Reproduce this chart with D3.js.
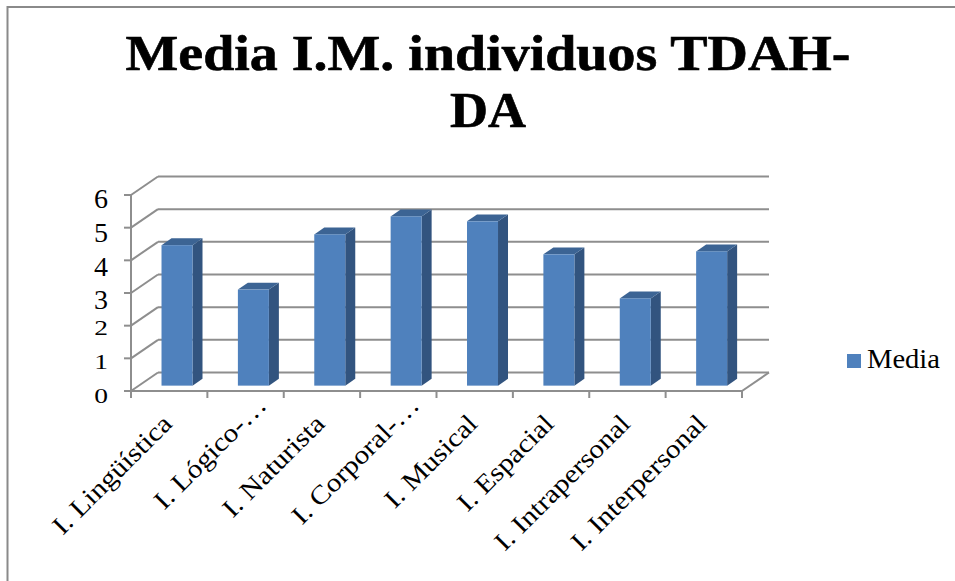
<!DOCTYPE html>
<html><head><meta charset="utf-8">
<script src="https://cdn.jsdelivr.net/npm/d3@7"></script>
<style>html,body{margin:0;padding:0;background:#fff;overflow:hidden}svg{display:block}</style>
</head><body><svg id="c" width="955" height="581"></svg>
<script>
const categories = ["I. Lingüística","I. Lógico-…","I. Naturista","I. Corporal-…","I. Musical","I. Espacial","I. Intrapersonal","I. Interpersonal"];
const values = [4.3,2.94,4.63,5.18,5.03,4.02,2.67,4.11];
const yTicks = [0,1,2,3,4,5,6];
const seriesName = "Media";
const titleLines = ["Media I.M. individuos TDAH-","DA"];

const serif = "'Liberation Serif',serif";
const grid = "#8e8e8e";
const svg = d3.select("#c");
const x = d3.scaleBand().domain(categories).range([131,742]);
const y = d3.scaleLinear().domain([0,6]).range([391,195]);
const DX = 27, DY = -18.5;
const px = (v,d)=>v+DX*d, py = (v,d)=>v+DY*d;

svg.append("path").attr("d","M7.5,581V7H955").attr("fill","none").attr("stroke","#8a8a8a").attr("stroke-width",2);

svg.selectAll(".t").data(titleLines).join("text")
  .attr("x",488).attr("y",(d,i)=>[70,127][i]).attr("text-anchor","middle")
  .attr("font-family",serif).attr("font-weight","bold").attr("font-size",50).attr("fill","#000")
  .attr("stroke","#000").attr("stroke-width",0.6)
  .attr("lengthAdjust","spacingAndGlyphs").attr("textLength",(d,i)=>[725,76][i]).text(d=>d);

const line=(x1,y1,x2,y2)=>svg.append("line").attr("x1",x1).attr("y1",y1).attr("x2",x2).attr("y2",y2)
  .attr("stroke",grid).attr("stroke-width",2);
yTicks.forEach(t=>{
  line(px(x.range()[0],1),py(y(t),1),px(x.range()[1],1),py(y(t),1));
  line(x.range()[0],y(t),px(x.range()[0],1),py(y(t),1));
});
line(x.range()[1],y(0),px(x.range()[1],1),py(y(0),1));
line(x.range()[0],y(0),x.range()[0],y(6));
line(x.range()[0],y(0),x.range()[1],y(0));
yTicks.forEach(t=>line(x.range()[0]-7,y(t),x.range()[0],y(t)));
categories.forEach(c=>line(x(c),y(0),x(c),y(0)+7));
line(x.range()[1],y(0),x.range()[1],y(0)+7);

const barW = 31, d0 = 0.29, d1 = 0.66;
const bars = svg.selectAll(".bar").data(categories.map((c,i)=>({c,v:values[i]}))).join("g").attr("class","bar");
const bx = d=>x(d.c)+(x.bandwidth()-barW)/2;
const pts = a=>a.map(p=>p.join(",")).join(" ");
bars.append("polygon").attr("fill","#32547f").attr("points",d=>{
  const l=bx(d)+barW; return pts([[px(l,d0),py(y(0),d0)],[px(l,d1),py(y(0),d1)],[px(l,d1),py(y(d.v),d1)],[px(l,d0),py(y(d.v),d0)]]);});
bars.append("polygon").attr("fill","#3c6494").attr("points",d=>{
  const l=bx(d); return pts([[px(l,d0),py(y(d.v),d0)],[px(l+barW,d0),py(y(d.v),d0)],[px(l+barW,d1),py(y(d.v),d1)],[px(l,d1),py(y(d.v),d1)]]);});
bars.append("rect").attr("fill","#4f81bd").attr("x",d=>px(bx(d),d0)).attr("width",barW)
  .attr("y",d=>py(y(d.v),d0)).attr("height",d=>y(0)-y(d.v));

// Tick digits imitate the reference's old-style numerals: small wide 0,1,2 and lower-set 3,4,5.
const digitSize = t=>t<=2?22:28;
const digitBase = [11,10,9,15,15,14,12];
const ya = svg.append("g").attr("transform","translate(108,0)")
  .call(d3.axisLeft(y).tickValues(yTicks).tickFormat(d3.format("d")).tickSize(0).tickPadding(0));
ya.select(".domain").remove();
ya.selectAll("text").attr("font-family",serif).attr("fill","#000")
  .attr("font-size",d=>digitSize(d)).attr("dy",d=>digitBase[d]).attr("x",0)
  .attr("transform",d=>d<=2?"scale(1.25,1)":null);

const xa = svg.append("g").attr("transform","translate(-5,"+(y(0)+25)+")").call(d3.axisBottom(x).tickSize(0).tickPadding(0));
xa.select(".domain").remove();
xa.selectAll("text").attr("font-family",serif).attr("font-size",26).attr("fill","#000")
  .attr("text-anchor","end").attr("dy","0.5em").attr("x",d=>d.endsWith("…")?23:0)
  .attr("transform","rotate(-45) scale(1.13,1)");

svg.append("rect").attr("x",847).attr("y",354).attr("width",14).attr("height",14).attr("fill","#4f81bd");
svg.append("text").attr("x",867).attr("y",368).attr("font-family",serif).attr("font-size",27).attr("fill","#000")
  .attr("lengthAdjust","spacingAndGlyphs").attr("textLength",73).text(seriesName);
</script></body></html>
